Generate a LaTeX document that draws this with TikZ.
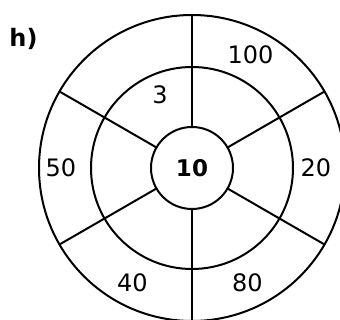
\documentclass[tikz,border=0pt]{standalone}
\usepackage{fontspec}
\setmainfont{DejaVu Sans}
\usetikzlibrary{positioning}

\begin{document}
\begin{tikzpicture}[
      x=1pt, y=1pt,
      ring/.style={
          circle, draw, line width=2pt,
          inner sep=0pt, outer sep=0pt
        },
      spoke/.style={line width=2pt},
      score/.style={font=\fontsize{24}{28}\selectfont, inner sep=0pt},
    ]
    \useasboundingbox (-192,-152) rectangle (148,168);
    % three rings of the target
    \node[ring, minimum size=306pt] (rim) at (0,0) {};
    \node[ring, minimum size=202pt] (mid) at (0,0) {};
    \node[ring, minimum size=82pt, font=\fontsize{23}{28}\selectfont\bfseries] (core) at (0,0) {10};
    % six spokes
    \foreach \a in {30,90,...,330}
      \draw[spoke] (core.\a) -- (rim.\a);
    % scores
    \node[score] (s100) at (58.5,113) {100};
    \node[score] (s3) at (-32,73.5) {3};
    \node[score] (s50) at (-131,0) {50};
    \node[score] (s20) at (124,0) {20};
    \node[score] (s40) at (-59.5,-114.5) {40};
    \node[score] (s80) at (55.5,-114.5) {80};
    \node[font=\fontsize{24}{28}\selectfont\bfseries, inner sep=0pt] (tag) at (-168.5,129) {h)};
  \end{tikzpicture}
\end{document}
